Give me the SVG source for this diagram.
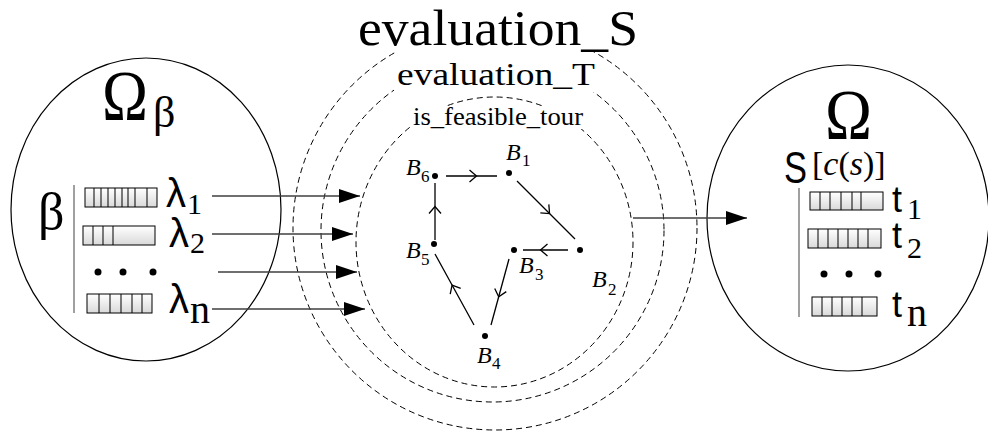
<svg xmlns="http://www.w3.org/2000/svg" width="988" height="436" viewBox="0 0 988 436">
<style>
.circ{fill:none;stroke:#000;stroke-width:1.2}
.dash{fill:none;stroke:#000;stroke-width:1;stroke-dasharray:6,4}
.serif{font-family:"Liberation Serif","DejaVu Serif",serif;fill:#000}
.sans{font-family:"Liberation Sans","DejaVu Sans",sans-serif;fill:#000}
.ital{font-family:"Liberation Serif","DejaVu Serif",serif;font-style:italic;fill:#000}
.gray{stroke:#808080;stroke-width:1.5}
.box{fill:url(#g);stroke:#000;stroke-width:1}
.cell{stroke:#000;stroke-width:1}
.arr{fill:none;stroke:#3f3f3f;stroke-width:1.5;marker-end:url(#ah)}
.edge{fill:none;stroke:#000;stroke-width:1.3;marker-mid:url(#chev)}
.bg{fill:#fff}
</style>
<defs>
<linearGradient id="g" x1="0" y1="0" x2="0" y2="1">
<stop offset="0" stop-color="#ffffff"/>
<stop offset="1" stop-color="#d9d9d9"/>
</linearGradient>
<marker id="ah" markerUnits="userSpaceOnUse" markerWidth="22" markerHeight="16" refX="21" refY="7" orient="auto">
<path d="M0,0 L21,7 L0,14 z" fill="#000"/>
</marker>
<marker id="chev" markerUnits="userSpaceOnUse" markerWidth="20" markerHeight="20" refX="-5" refY="0" viewBox="-10 -10 20 20" orient="auto" overflow="visible">
<path d="M-7,-6 L0,0 L-7,6" fill="none" stroke="#000" stroke-width="1.3"/>
</marker>
</defs>
<rect width="988" height="436" fill="#fff"/>

<g id="omega-beta">
<ellipse class="circ" cx="146" cy="209.5" rx="135" ry="151.5"/>
<text class="serif" x="102" y="120" font-size="72" textLength="46" lengthAdjust="spacingAndGlyphs">Ω</text>
<text class="serif" x="153" y="127" font-size="44">β</text>
<text class="serif" x="38" y="229" font-size="52">β</text>
<line class="gray" x1="74" y1="185" x2="74" y2="313"/>
<rect class="box" x="85" y="188" width="72" height="19"/>
<path class="cell" d="M94,188V207M101,188V207M108,188V207M115,188V207M122,188V207M128,188V207M135,188V207M147,188V207"/>
<rect class="box" x="83" y="226" width="72" height="19"/>
<path class="cell" d="M93,226V245M103,226V245M113,226V245"/>
<circle cx="98" cy="272" r="3.5"/>
<circle cx="123" cy="272" r="3.5"/>
<circle cx="153" cy="272" r="3.5"/>
<rect class="box" x="87" y="294" width="65" height="19"/>
<path class="cell" d="M99,294V313M110,294V313M121,294V313M132,294V313M142,294V313"/>
<text class="sans" x="166" y="207" font-size="40">λ</text>
<text class="serif" x="187" y="214" font-size="30">1</text>
<text class="sans" x="169" y="247" font-size="40">λ</text>
<text class="serif" x="190" y="253" font-size="30">2</text>
<text class="sans" x="169" y="313" font-size="40">λ</text>
<text class="serif" x="190" y="323" font-size="40">n</text>
</g>

<g id="evaluation_S">
<circle class="dash" cx="495" cy="228" r="202"/>
</g>
<g id="evaluation_T">
<circle class="dash" cx="492.5" cy="230.5" r="171.5"/>
</g>
<g id="is_feasible_tour">
<ellipse class="dash" cx="494.5" cy="242" rx="138.5" ry="145"/>
</g>

<g id="labels">
<rect class="bg" x="355" y="2" width="286" height="50"/>
<text class="serif" x="358" y="45" font-size="50" textLength="280" lengthAdjust="spacingAndGlyphs">evaluation_S</text>
<rect class="bg" x="394" y="55" width="204" height="37"/>
<text class="serif" x="397" y="85" font-size="32" textLength="198" lengthAdjust="spacingAndGlyphs">evaluation_T</text>
<rect class="bg" x="411" y="106" width="176" height="23"/>
<text class="serif" x="413" y="125" font-size="25" textLength="170" lengthAdjust="spacingAndGlyphs">is_feasible_tour</text>
</g>

<g id="omega">
<ellipse class="circ" cx="848" cy="218" rx="141" ry="153"/>
<text class="serif" x="825" y="139" font-size="72" textLength="47" lengthAdjust="spacingAndGlyphs">Ω</text>
<text class="sans" x="784" y="183" font-size="44" textLength="23" lengthAdjust="spacingAndGlyphs">S</text>
<text class="serif" x="812" y="175" font-size="34">[<tspan font-style="italic">c</tspan>(<tspan font-style="italic">s</tspan>)]</text>
<line class="gray" x1="799" y1="188" x2="799" y2="317"/>
<rect class="box" x="810" y="192" width="73" height="18"/>
<path class="cell" d="M820,192V210M830,192V210M841,192V210M852,192V210M861,192V210"/>
<rect class="box" x="808" y="229" width="73" height="19"/>
<path class="cell" d="M818,229V248M828,229V248M838,229V248M848,229V248M858,229V248M868,229V248"/>
<circle cx="824" cy="274" r="3.5"/>
<circle cx="849" cy="274" r="3.5"/>
<circle cx="878" cy="274" r="3.5"/>
<rect class="box" x="812" y="297" width="65" height="19"/>
<path class="cell" d="M822,297V316M832,297V316M842,297V316M852,297V316M862,297V316"/>
<text class="sans" x="892" y="212" font-size="36">t</text>
<text class="serif" x="907" y="219" font-size="30">1</text>
<text class="sans" x="892" y="248" font-size="36">t</text>
<text class="serif" x="907" y="258" font-size="30">2</text>
<text class="sans" x="892" y="317" font-size="36">t</text>
<text class="serif" x="907" y="326" font-size="40">n</text>
</g>

<g id="B1"><circle cx="509" cy="173" r="3"/><text class="ital" x="506" y="160" font-size="24">B</text><text class="serif" x="522" y="166" font-size="17">1</text></g>
<g id="B2"><circle cx="580" cy="250" r="3"/><text class="ital" x="592" y="287" font-size="24">B</text><text class="serif" x="608" y="295" font-size="17">2</text></g>
<g id="B3"><circle cx="514" cy="250" r="3"/><text class="ital" x="519" y="273" font-size="24">B</text><text class="serif" x="535" y="280" font-size="17">3</text></g>
<g id="B4"><circle cx="485" cy="336" r="3"/><text class="ital" x="477" y="363" font-size="24">B</text><text class="serif" x="492" y="369" font-size="17">4</text></g>
<g id="B5"><circle cx="434" cy="244" r="3"/><text class="ital" x="406" y="258" font-size="24">B</text><text class="serif" x="421" y="265" font-size="17">5</text></g>
<g id="B6"><circle cx="435" cy="176" r="3"/><text class="ital" x="406" y="175" font-size="24">B</text><text class="serif" x="421" y="182" font-size="17">6</text></g>

<g id="connectors">
<path class="arr" d="M212,196 H360"/>
<path class="arr" d="M212,234 H353"/>
<path class="arr" d="M218,272 H357"/>
<path class="arr" d="M212,309 H365"/>
<path class="arr" d="M633,218 H747"/>
<path class="edge" d="M446,176 L471.5,176 L497,176"/>
<path class="edge" d="M517,181 L546,210 L575,239"/>
<path class="edge" d="M568,250 L545.5,250 L523,250"/>
<path class="edge" d="M509,259 L500,292 L491,325"/>
<path class="edge" d="M474,325 L454.5,289.5 L435,254"/>
<path class="edge" d="M435,240 L435,211.5 L435,183"/>
</g>
</svg>
